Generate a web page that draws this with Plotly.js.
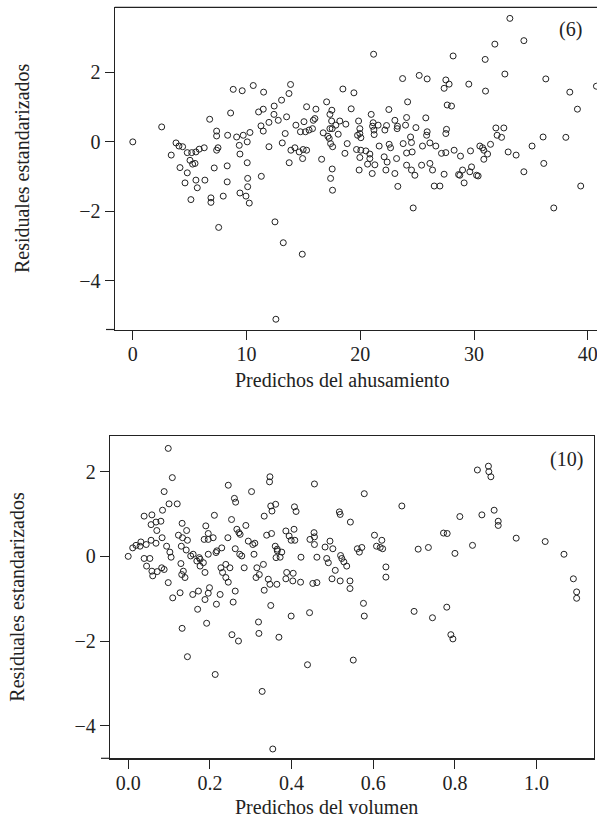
<!DOCTYPE html>
<html>
<head>
<meta charset="utf-8">
<script src="https://cdn.plot.ly/plotly-3.0.1.min.js"></script>
<style>html,body{margin:0;padding:0;background:#fff;}#chart{width:597px;height:822px;}</style>
</head>
<body>
<div id="chart"></div>
<script>
// Panel (6): predicted taper vs standardized residuals
const predTaper = [0,2.54,3.8,4.06,4.38,3.38,4.79,5.18,5.55,5.84,6.28,5.03,5.26,5.47,4.15,4.79,5.55,6.34,6.76,7.16,7.37,7.37,7.49,7.37,8.34,8.3,8.6,8.83,9.62,10.59,11.5,9.13,9.71,10.3,10.06,9.36,9.42,10.06,11.06,11.47,11.27,11.47,11.97,11.97,11.3,10.1,
4.59,5.67,8.3,5.11,6.87,6.87,7.95,9.42,9.95,10.1,10.24,7.55,12.5,13.23,14.9,12.58,
21.17,23.72,25.18,13.87,13.73,13.08,12.43,12.41,12.79,13.52,15.28,16.1,17.04,17.5,17.33,18.47,19.44,19.2,14.34,15.05,15.87,16.01,14.74,15.18,15.5,15.8,13.4,16.74,17.48,17.53,17.85,18.2,18.73,17.33,17.15,17.27,17.39,18.06,17.57,18.85,18.65,13.14,13.9,14.25,14.63,14.98,15.28,14.93,13.75,16.6,17.53,17.39,
19.85,19.96,19.96,19.76,20.05,19.67,20.05,20.49,20.84,20.84,19.96,19.9,20.64,21.28,21.05,20.96,21.13,21.2,21.22,21.57,21.08,21.66,22.16,22.51,22.31,23.04,23.27,23.24,24.07,23.98,24.16,24.89,23.77,24.42,24.5,24.07,24.56,22.54,22.66,22.1,22.36,23.19,24.07,23.04,22.25,24.5,24.8,
33.15,31.83,34.38,28.16,30.98,25.88,27.52,27.81,27.37,29.54,31.01,32.71,36.31,38.42,40.76,27.64,28.02,25.76,39.09,25.88,25.83,27.58,27.52,31.92,32.62,32.03,32.42,36.07,38.07,25.47,26.12,26.64,27.14,27.52,28.25,28.81,29.69,30.51,30.75,30.86,31.45,31.19,30.86,33.0,33.7,35.1,25.39,26.12,26.35,27.37,28.99,28.75,29.78,29.63,30.22,30.36,34.38,36.13,
17.56,24.65,37.01,39.38,23.3,26.5,27.0,28.64,29.13];
const resTaper = [0,0.43,-0.03,-0.12,-0.14,-0.38,-0.31,-0.31,-0.29,-0.21,-0.17,-0.53,-0.64,-0.62,-0.74,-0.89,-1.10,-1.10,0.65,-0.75,0.31,0.17,-0.17,-0.24,0.19,-0.69,0.83,1.51,1.47,1.62,1.43,0.14,0.19,0.27,0.0,-0.1,-0.35,-0.6,0.86,0.94,0.46,0.31,0.56,-0.14,-0.99,-1.05,
-1.18,-1.32,-1.15,-1.66,-1.61,-1.74,-1.56,-1.47,-1.56,-1.29,-1.76,-2.46,-2.30,-2.9,-3.23,-5.10,
2.52,1.82,1.91,1.65,1.39,1.2,1.03,0.79,0.62,0.72,1.01,0.94,1.15,0.91,0.79,1.52,1.41,0.95,0.48,0.58,0.62,0.67,0.29,0.29,0.34,0.38,0.24,0.26,0.6,0.38,0.48,0.6,0.51,0.38,0.16,0.1,-0.05,0.22,-0.14,-0.05,-0.33,-0.03,-0.24,-0.17,-0.29,-0.22,-0.24,-0.48,-0.6,-0.5,-0.78,-1.05,
0.6,0.38,0.24,0.19,0.12,-0.22,-0.24,-0.26,-0.35,-0.48,-0.45,-0.81,-0.64,-0.66,-0.91,0.79,0.55,0.34,0.21,0.48,0.45,-0.12,0.34,0.93,0.47,0.62,0.45,0.38,0.7,0.48,1.15,0.41,-0.05,0.14,-0.02,-0.32,-0.29,-0.07,-0.17,-0.43,-0.58,-0.48,-0.67,-0.91,-0.81,-0.81,-0.96,
3.55,2.81,2.91,2.47,2.37,1.81,1.78,1.66,1.54,1.66,1.46,1.95,1.81,1.43,1.6,1.06,1.03,0.69,0.94,0.29,0.19,0.36,0.24,0.4,0.4,0.19,0.13,0.14,0.13,-0.12,-0.03,-0.12,-0.33,-0.31,-0.24,-0.41,-0.26,-0.12,-0.17,-0.24,-0.07,-0.35,-0.5,-0.29,-0.38,-0.12,-0.67,-0.62,-0.81,-0.93,-0.81,-0.96,-0.72,-0.86,-0.96,-0.98,-0.86,-0.62,
-1.39,-1.90,-1.90,-1.27,-1.28,-1.27,-1.27,-0.94,-1.18];

// Panel (10): predicted volume vs standardized residuals
const predVol = [0,0.098,0.108,0.088,0.1,0.12,0.084,0.039,0.058,0.08,0.068,0.056,0.07,0.083,0.056,0.044,0.031,0.019,0.011,0.029,0.068,0.094,0.102,0.105,0.039,0.053,0.045,0.058,0.071,0.082,0.06,0.088,0.098,
0.132,0.143,0.123,0.133,0.145,0.13,0.142,0.153,0.129,0.135,0.139,0.131,0.109,0.127,0.158,0.172,0.196,0.188,0.199,0.225,
0.159,0.168,0.176,0.184,0.176,0.174,0.188,0.196,0.208,0.196,0.19,0.186,0.196,0.211,0.215,0.229,0.217,0.244,0.253,0.266,0.274,0.288,0.271,0.245,0.26,0.263,0.302,0.294,0.305,0.31,0.308,0.262,0.273,0.278,
0.227,0.239,0.249,0.231,0.239,0.245,0.262,0.284,0.315,0.321,0.331,0.313,0.333,0.349,0.361,0.339,0.351,0.36,0.362,0.365,0.347,0.346,0.343,0.347,0.333,0.364,
0.456,0.578,0.67,0.352,0.407,0.411,0.517,0.519,0.544,0.772,0.781,0.386,0.394,0.406,0.399,0.408,0.365,0.376,0.372,0.423,0.462,0.482,0.494,0.501,0.455,0.456,0.445,0.456,
0.486,0.49,0.507,0.52,0.523,0.528,0.535,0.561,0.566,0.572,0.603,0.621,0.608,0.617,0.623,0.631,0.631,0.71,0.735,
0.388,0.404,0.386,0.403,0.422,0.452,0.462,0.499,0.519,0.543,0.543,
0.855,0.882,0.883,0.888,0.812,0.866,0.896,0.906,0.906,0.95,1.021,1.067,1.09,1.098,1.098,0.8,0.843,
0.216,0.257,0.17,0.349,0.399,0.444,0.576,0.578,0.132,0.192,0.254,0.27,0.319,0.32,0.369,0.145,0.213,0.328,0.439,0.551,0.354,
0.70,0.745,0.78,0.79,0.795];
const resVol = [0,2.55,1.86,1.53,1.24,1.24,1.09,0.95,0.98,0.83,0.81,0.75,0.61,0.44,0.38,0.28,0.34,0.26,0.2,0.24,0.31,0.24,0.1,-0.02,-0.05,-0.05,-0.23,-0.35,-0.36,-0.27,-0.46,-0.31,-0.62,
0.78,0.61,0.5,0.44,0.38,0.24,0.15,0.01,-0.17,-0.35,-0.5,-0.43,-0.98,-0.86,-0.9,-0.82,-0.87,-1.02,-0.74,-0.9,
0.05,-0.11,-0.07,-0.15,-0.23,-0.03,-0.38,0.05,0.44,0.54,0.72,0.4,0.4,0.97,0.09,0.2,0.13,0.44,0.87,0.64,0.52,0.73,0.56,1.68,1.37,1.28,1.53,0.36,0.28,0.31,0.05,0.18,0.05,0.01,
-0.27,-0.19,-0.27,-0.38,-0.5,-0.61,-0.82,-0.27,-0.27,-0.43,-0.19,-0.5,0.95,1.19,1.23,0.5,0.54,0.24,-0.03,0.13,1.88,1.76,-0.54,-0.66,-0.8,-0.66,
1.71,1.48,1.19,1.07,1.17,1.06,1.05,0.99,0.81,0.55,0.54,0.6,0.48,0.64,0.38,0.38,0.17,0.1,-0.02,-0.02,-0.02,0.22,0.36,0.18,0.56,0.46,0.4,0.28,
-0.05,-0.15,-0.33,0.02,-0.05,-0.13,-0.23,0.18,0.1,0.21,0.5,0.38,0.24,0.21,0.18,-0.25,-0.49,0.17,0.21,
-0.38,-0.4,-0.53,-0.58,-0.61,-0.64,-0.62,-0.53,-0.58,-0.58,-0.76,
2.04,2.13,2.0,1.88,0.94,0.98,1.09,0.83,0.73,0.43,0.35,0.05,-0.53,-0.84,-0.99,0.07,0.26,
-1.13,-1.08,-1.25,-1.16,-1.41,-1.33,-1.11,-1.41,-1.7,-1.58,-1.85,-2.0,-1.55,-1.82,-1.91,-2.37,-2.79,-3.19,-2.56,-2.45,-4.55,
-1.3,-1.45,-1.2,-1.85,-1.95];

const tickValsTop = [0,10,20,30,40];
const tickValsY = [-4,-2,0,2];
const tickValsBottom = [0,0.2,0.4,0.6,0.8,1.0];
const tickTextBottom = ['0.0','0.2','0.4','0.6','0.8','1.0'];

const W = 597, H = 822;
const px = v => v / W;
const py = v => 1 - v / H;
const FONT = 'Liberation Serif, Times New Roman, serif';
const INK = '#222';
const FS = 20;

const marker = {symbol:'circle-open', size:6, color:INK, line:{width:1, color:INK}};

const traces = [
  {x: predTaper, y: resTaper, type:'scatter', mode:'markers', marker: marker, xaxis:'x', yaxis:'y', showlegend:false, hoverinfo:'x+y'},
  {x: predVol, y: resVol, type:'scatter', mode:'markers', marker: marker, xaxis:'x2', yaxis:'y2', showlegend:false, hoverinfo:'x+y'}
];

const axCommon = {
  showgrid:false, zeroline:false, ticks:'outside', ticklen:9, tickwidth:1, tickcolor:INK,
  showline:true, linecolor:INK, linewidth:1.2,
  tickfont:{family:FONT, size:FS, color:INK}, automargin:false
};

const layout = {
  width: W, height: H,
  margin:{l:0, r:0, t:0, b:0},
  paper_bgcolor:'#fff', plot_bgcolor:'#fff',
  font:{family:FONT, color:INK},
  xaxis: Object.assign({}, axCommon, {
    domain:[px(114.7), 1], range:[-1.59, 40.81], tickvals: tickValsTop, anchor:'y',
    ticklabeloverflow:'allow', ticklabelstandoff:-3
  }),
  yaxis: Object.assign({}, axCommon, {
    domain:[py(329.5), py(7.3)], range:[-5.395, 3.869], tickvals: tickValsY, anchor:'x',
    title:{text:'Residuales estandarizados', font:{family:FONT, size:FS, color:INK}, standoff:44}
  }),
  xaxis2: Object.assign({}, axCommon, {
    domain:[px(110), px(594)], range:[-0.0446, 1.1405], tickvals: tickValsBottom, ticktext: tickTextBottom,
    anchor:'y2', mirror:true, ticklabeloverflow:'allow', ticklabelstandoff:-3
  }),
  yaxis2: Object.assign({}, axCommon, {
    domain:[py(758.3), py(435.7)], range:[-4.77, 2.85], tickvals: tickValsY, anchor:'x2', mirror:true,
    title:{text:'Residuales estandarizados', font:{family:FONT, size:FS, color:INK}, standoff:44}
  }),
  shapes:[
    {type:'line', xref:'paper', yref:'paper', x0:px(114.7), x1:1, y0:py(7.3), y1:py(7.3), line:{color:INK, width:1.2}},
    {type:'line', xref:'paper', yref:'paper', x0:px(106), x1:px(115), y0:py(329.5), y1:py(329.5), line:{color:INK, width:1.2}},
    {type:'line', xref:'paper', yref:'paper', x0:px(101), x1:px(110), y0:py(758.3), y1:py(758.3), line:{color:INK, width:1.2}}
  ],
  annotations:[
    {text:'(6)', xref:'paper', yref:'paper', x:px(570), y:py(29), xanchor:'center', yanchor:'middle', showarrow:false, font:{family:FONT, size:FS, color:INK}},
    {text:'(10)', xref:'paper', yref:'paper', x:px(566), y:py(459), xanchor:'center', yanchor:'middle', showarrow:false, font:{family:FONT, size:FS, color:INK}},
    {text:'Predichos del ahusamiento', xref:'paper', yref:'paper', x:px(342), y:py(380), xanchor:'center', yanchor:'middle', showarrow:false, font:{family:FONT, size:FS, color:INK}},
    {text:'Predichos del volumen', xref:'paper', yref:'paper', x:px(326), y:py(807), xanchor:'center', yanchor:'middle', showarrow:false, font:{family:FONT, size:FS, color:INK}}
  ]
};

Plotly.newPlot('chart', traces, layout, {displayModeBar:false, staticPlot:true});
</script>
</body>
</html>
